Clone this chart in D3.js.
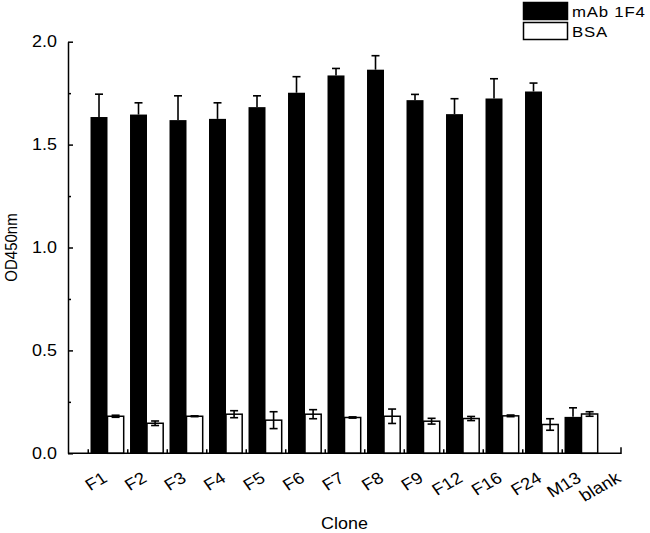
<!DOCTYPE html>
<html>
<head>
<meta charset="utf-8">
<script src="https://cdn.jsdelivr.net/npm/d3@7/dist/d3.min.js"></script>
<style>
  body { margin: 0; background: #fff; }
  text { font-family: "Liberation Sans", Arial, sans-serif; fill: #000; }
</style>
</head>
<body>
<svg id="chart"></svg>
<script>
// ELISA OD450 of phage clones, mAb 1F4 vs BSA

const clones = ["F1", "F2", "F3", "F4", "F5", "F6", "F7", "F8", "F9", "F12", "F16", "F24", "M13", "blank"];
const mabValues = [1.634, 1.646, 1.619, 1.625, 1.682, 1.752, 1.836, 1.864, 1.716, 1.648, 1.724, 1.758, 0.177, null];
const mabErrors = [0.111, 0.057, 0.118, 0.078, 0.055, 0.078, 0.034, 0.068, 0.028, 0.075, 0.096, 0.041, 0.044, null];
const bsaValues = [0.180, 0.146, 0.180, 0.190, 0.161, 0.190, 0.174, 0.180, 0.156, 0.169, 0.182, 0.140, 0.191, null];
const bsaErrors = [0.005, 0.011, 0.002, 0.017, 0.041, 0.022, 0.003, 0.035, 0.014, 0.010, 0.004, 0.028, 0.011, null];
const yTicks = [0, 0.5, 1.0, 1.5, 2.0];
const yMinorTicks = [0.25, 0.75, 1.25, 1.75];
const legendLabels = ["mAb 1F4", "BSA"];

const WIDTH = 650;
const HEIGHT = 533;
const STRETCH = "scale(1.12,1)";

const svg = d3.select("#chart")
    .attr("width", WIDTH)
    .attr("height", HEIGHT);

const x = d3.scaleLinear().domain([0, clones.length]).range([68, 621]);
const y = d3.scaleLinear().domain([0, 2]).range([453.3, 41.7]);

const blackW = 0.43;   // bar widths in category units
const whiteW = 0.41;
const capHalf = 4;

// Bars
const idx = d3.range(clones.length).filter(i => mabValues[i] != null);

svg.append("g").selectAll("rect")
    .data(idx)
    .join("rect")
    .attr("x", i => x(i + 1 - blackW))
    .attr("y", i => y(mabValues[i]))
    .attr("width", i => x(i + 1) - x(i + 1 - blackW))
    .attr("height", i => y(0) - y(mabValues[i]))
    .attr("fill", "#000");

svg.append("g").selectAll("rect")
    .data(idx)
    .join("rect")
    .attr("x", i => x(i + 1))
    .attr("y", i => y(bsaValues[i]))
    .attr("width", i => x(i + 1 + whiteW) - x(i + 1))
    .attr("height", i => y(0) - y(bsaValues[i]))
    .attr("fill", "#fff")
    .attr("stroke", "#000")
    .attr("stroke-width", 1.5);

// Error bars - black bars only upward
const errG = svg.append("g").attr("stroke", "#000").attr("stroke-width", 1.6);
idx.forEach(i => {
    const cx = (x(i + 1 - blackW) + x(i + 1)) / 2;
    const top = y(mabValues[i] + mabErrors[i]);
    errG.append("line")
        .attr("x1", cx).attr("x2", cx)
        .attr("y1", y(mabValues[i])).attr("y2", top);
    errG.append("line")
        .attr("x1", cx - capHalf).attr("x2", cx + capHalf)
        .attr("y1", top).attr("y2", top);
});

// BSA error bars both ways
idx.forEach(i => {
    const cx = (x(i + 1) + x(i + 1 + whiteW)) / 2;
    const hi = y(bsaValues[i] + bsaErrors[i]);
    const lo = y(bsaValues[i] - bsaErrors[i]);
    errG.append("line")
        .attr("x1", cx).attr("x2", cx)
        .attr("y1", lo).attr("y2", hi);
    [hi, lo].forEach(yy => {
        errG.append("line")
            .attr("x1", cx - capHalf).attr("x2", cx + capHalf)
            .attr("y1", yy).attr("y2", yy);
    });
});

// Y axis
const yAxis = svg.append("g")
    .attr("transform", `translate(${x(0)},0)`)
    .call(d3.axisLeft(y).tickValues(yTicks).tickSizeInner(-5).tickSizeOuter(0).tickFormat(""));
yAxis.append("g")
    .call(d3.axisLeft(y).tickValues(yMinorTicks).tickSizeInner(-3).tickSizeOuter(0).tickFormat(""))
    .select(".domain").remove();
yAxis.selectAll("line, path").attr("stroke", "#000").attr("stroke-width", 1.5);

svg.append("g").selectAll("text")
    .data(yTicks)
    .join("text")
    .attr("transform", d => `translate(57,${y(d)}) ${STRETCH}`)
    .attr("text-anchor", "end")
    .attr("dy", "0.35em")
    .attr("font-size", 16)
    .text(d => d.toFixed(1));

// X axis
const boundaries = d3.range(clones.length - 1).map(i => i + 0.5);
const xAxis = svg.append("g")
    .attr("transform", `translate(0,${y(0)})`)
    .call(d3.axisBottom(x).tickValues(boundaries).tickSizeInner(-4).tickSizeOuter(-6).tickFormat(""));
xAxis.selectAll("line, path").attr("stroke", "#000").attr("stroke-width", 1.5);
xAxis.select(".domain").attr("d", `M${x(0)},0H${x(clones.length)}V-6`);

svg.append("g").selectAll("text")
    .data(clones)
    .join("text")
    .attr("transform", (d, i) => `translate(${x(i + 1) + 1},481) ${STRETCH} rotate(-32)`)
    .attr("text-anchor", "end")
    .attr("font-size", 16.5)
    .text(d => d);

// Axis titles
svg.append("text")
    .attr("transform", `translate(${(x(0) + x(clones.length)) / 2},529) ${STRETCH}`)
    .attr("text-anchor", "middle")
    .attr("font-size", 16)
    .text("Clone");

svg.append("text")
    .attr("transform", `translate(17,${(y(0) + y(2)) / 2}) ${STRETCH} rotate(-90)`)
    .attr("text-anchor", "middle")
    .attr("font-size", 15)
    .text("OD450nm");

// Legend
const legend = svg.append("g");
legendLabels.forEach((label, i) => {
    const ly = 2 + i * 20;
    legend.append("rect")
        .attr("x", 523.5).attr("y", ly + 0.5)
        .attr("width", 44).attr("height", 17)
        .attr("fill", i === 0 ? "#000" : "#fff")
        .attr("stroke", "#000")
        .attr("stroke-width", 1.5);
    legend.append("text")
        .attr("transform", `translate(572,${ly + 14.5}) ${STRETCH}`)
        .attr("font-size", 15)
        .attr("letter-spacing", 0.7)
        .text(label);
});
</script>
</body>
</html>
